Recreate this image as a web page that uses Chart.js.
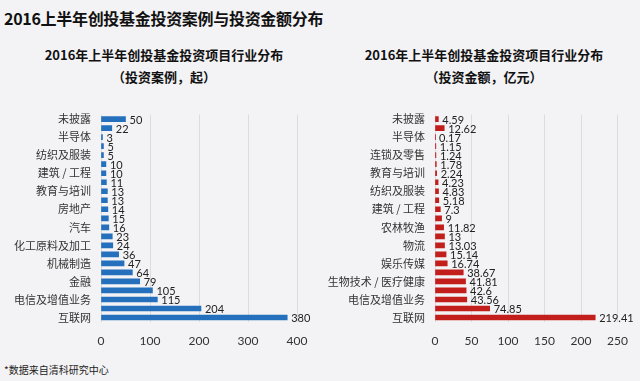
<!DOCTYPE html>
<html>
<head>
<meta charset="utf-8">
<script src="https://cdn.jsdelivr.net/npm/chart.js@4"></script>
<style>
  body { margin: 0; background: #f3f3f5; font-family: "Noto Sans CJK SC", sans-serif; }
  #page { position: relative; width: 640px; height: 381px; overflow: hidden; }
  .title { position: absolute; left: 4px; top: 6px; font-size: 16px; font-weight: bold; color: #111; letter-spacing: -0.3px; }
  .sub { position: absolute; width: 320px; text-align: center; font-size: 13px; font-weight: bold; color: #111; line-height: 22px; }
  .note { position: absolute; left: 4px; top: 362px; font-size: 10px; color: #222; }
  canvas { position: absolute; }
</style>
</head>
<body>
<div id="page">
  <div class="title">2016上半年创投基金投资案例与投资金额分布</div>
  <div class="sub" style="left:4px; top:44px;">2016年上半年创投基金投资项目行业分布<br>（投资案例，起）</div>
  <div class="sub" style="left:324px; top:44px;">2016年上半年创投基金投资项目行业分布<br>（投资金额，亿元）</div>
  <canvas id="chartCasos" width="320" height="250" style="left:0; top:98px;"></canvas>
  <canvas id="chartValor" width="320" height="250" style="left:320px; top:98px;"></canvas>
  <div class="note">*数据来自清科研究中心</div>
</div>
<script>
// categorias (so as linhas pares tem rotulo no original)
const casosLabels = ['未披露', '', '半导体', '', '纺织及服装', '', '建筑 / 工程', '', '教育与培训', '',
  '房地产', '', '汽车', '', '化工原料及加工', '', '机械制造', '', '金融', '', '电信及增值业务', '', '互联网'];
const casosValores = [50, 22, 3, 5, 5, 10, 10, 11, 13, 13, 14, 15, 16, 23, 24, 36, 47, 64, 79, 105, 115, 204, 380];

const valorLabels = ['未披露', '', '半导体', '', '连锁及零售', '', '教育与培训', '', '纺织及服装', '',
  '建筑 / 工程', '', '农林牧渔', '', '物流', '', '娱乐传媒', '', '生物技术 / 医疗健康', '', '电信及增值业务', '', '互联网'];
const valorValores = [4.59, 12.62, 0.17, 1.15, 1.24, 1.78, 2.24, 4.23, 4.83, 5.18, 7.3, 9, 11.82, 13, 13.03,
  15.14, 16.74, 38.67, 41.81, 42.6, 43.56, 74.85, 219.41];

const casosTicks = [0, 100, 200, 300, 400];
const valorTicks = [0, 50, 100, 150, 200, 250];

// escreve o valor na ponta de cada barra
const rotulosBarras = {
  id: 'rotulosBarras',
  afterDatasetsDraw(chart) {
    const ctx = chart.ctx;
    ctx.save();
    ctx.font = '11px Lato, "Liberation Sans", sans-serif';
    ctx.fillStyle = '#222';
    ctx.textAlign = 'left';
    ctx.textBaseline = 'middle';
    chart.getDatasetMeta(0).data.forEach((bar, i) => {
      ctx.fillText(String(chart.data.datasets[0].data[i]), bar.x + 4, bar.y + 1);
    });
    ctx.restore();
  }
};

function criarGrafico(id, labels, valores, ticks, cor, larguraEixo, padDireita) {
  const ctx = document.getElementById(id).getContext('2d');
  return new Chart(ctx, {
    type: 'bar',
    data: {
      labels: labels,
      datasets: [{
        data: valores,
        backgroundColor: cor,
        barThickness: 5,
        borderWidth: 0
      }]
    },
    options: {
      indexAxis: 'y',
      responsive: false,
      animation: false,
      layout: { padding: { top: 2, right: padDireita, left: 0, bottom: 0 } },
      plugins: { legend: { display: false }, tooltip: { enabled: false } },
      scales: {
        x: {
          min: ticks[0],
          max: ticks[ticks.length - 1],
          afterBuildTicks: scale => { scale.ticks = ticks.map(v => ({ value: v })); },
          afterFit: scale => { scale.height = 26; },
          grid: { color: '#dcdcdf', drawTicks: false },
          border: { display: false },
          ticks: { padding: 12, color: '#333', font: { family: 'Lato, "Liberation Sans", sans-serif', size: 12 } }
        },
        y: {
          afterFit: scale => { scale.width = larguraEixo; },
          grid: { display: false, drawTicks: false },
          border: { display: false },
          ticks: {
            autoSkip: false,
            padding: 10,
            color: '#333',
            font: { family: '"Noto Sans CJK SC", sans-serif', size: 11 }
          }
        }
      }
    },
    plugins: [rotulosBarras]
  });
}

criarGrafico('chartCasos', casosLabels, casosValores, casosTicks, '#2470bd', 101, 23);
criarGrafico('chartValor', valorLabels, valorValores, valorTicks, '#c21f1c', 115, 18);
</script>
</body>
</html>
